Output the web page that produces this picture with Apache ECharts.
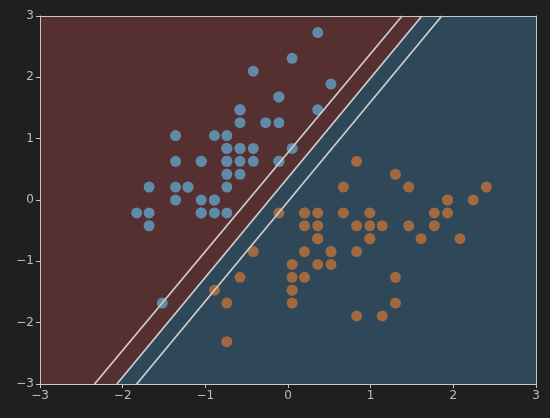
<!DOCTYPE html>
<html>
<head>
<meta charset="utf-8">
<script src="https://cdn.jsdelivr.net/npm/echarts@6/dist/echarts.min.js"></script>
<style>
  html, body { margin: 0; padding: 0; background: #1f1f1f; }
  #chart { width: 550px; height: 418px; }
</style>
</head>
<body>
<div id="chart"></div>
<script>
// standardized sepal length (x) / sepal width (y)
var class0X = [-0.58, -0.89, -1.21, -1.36, -0.74, -0.11, -1.36, -0.74, -1.68, -0.89,
  -0.11, -1.05, -1.05, -1.83, 0.52, 0.36, -0.11, -0.58, 0.36, -0.58,
  -0.11, -0.58, -1.36, -0.58, -1.05, -0.74, -0.74, -0.42, -0.42, -1.21,
  -1.05, -0.11, -0.42, 0.05, -0.89, -0.74, 0.05, -0.89, -1.68, -0.58,
  -0.74, -1.52, -1.68, -0.74, -0.58, -1.05, -0.58, -1.36, -0.27, -0.74];
var class0Y = [0.84, -0.21, 0.21, 0.00, 1.05, 1.68, 0.63, 0.63, -0.42, 0.00,
  1.26, 0.63, -0.21, -0.21, 1.89, 2.73, 1.68, 0.84, 1.47, 1.47,
  0.63, 1.26, 1.05, 0.42, 0.63, -0.21, 0.63, 0.84, 0.63, 0.21,
  0.00, 0.63, 2.10, 2.31, 0.00, 0.21, 0.84, 1.05, -0.21, 0.63,
  0.84, -1.68, 0.21, 0.84, 1.47, -0.21, 1.47, 0.21, 1.26, 0.42];
var class1X = [2.40, 1.46, 2.24, 0.05, 1.61, 0.36, 1.30, -0.89, 1.77, -0.42,
  -0.74, 0.67, 0.83, 0.99, 0.20, 1.93, 0.20, 0.52, 1.14, 0.20,
  0.67, 0.99, 1.30, 0.99, 1.46, 1.77, 2.08, 1.93, 0.83, 0.36,
  0.05, 0.05, 0.52, 0.83, -0.11, 0.83, 1.93, 1.30, 0.20, 0.05,
  0.05, 0.99, 0.52, -0.74, 0.20, 0.36, 0.36, 1.14, -0.58, 0.36];
var class1Y = [0.21, 0.21, 0.00, -1.68, -0.63, -0.63, 0.42, -1.47, -0.42, -0.84,
  -2.31, -0.21, -1.89, -0.42, -0.42, 0.00, -0.21, -0.84, -1.89, -1.26,
  0.21, -0.63, -1.26, -0.63, -0.42, -0.21, -0.63, -0.21, -0.42, -1.05,
  -1.47, -1.47, -0.84, -0.84, -0.21, 0.63, 0.00, -1.68, -0.21, -1.26,
  -1.05, -0.21, -1.05, -1.68, -0.84, -0.21, -0.42, -0.42, -1.26, -0.63];

// decision boundary and margins: x where each line meets y=-3 and y=3
var lineYs = [-3, 3];
var boundaryX = [-2.07, 1.62];
var marginUpperX = [-2.34, 1.38];
var marginLowerX = [-1.83, 1.86];

// regions (polygons)
var redRegionX = [-3, -2.07, 1.62, -3];
var redRegionY = [-3, -3, 3, 3];
var blueRegionX = [-2.07, 3, 3, 1.62];
var blueRegionY = [-3, -3, 3, 3];

var ticks = [-3, -2, -1, 0, 1, 2, 3];

function zip(xs, ys) {
  return xs.map(function (x, i) { return [x, ys[i]]; });
}

var regions = [
  { xs: redRegionX, ys: redRegionY, color: "#562f31" },
  { xs: blueRegionX, ys: blueRegionY, color: "#2e4759" }
];

var axisColor = "#c8c8c8";
var labelColor = "#bdbdbd";
var fmt = function (v) { return String(v).replace("-", "\u2212"); };

var chart = echarts.init(document.getElementById("chart"));

function lineSeries(xs) {
  return {
    type: "line",
    data: zip(xs, lineYs),
    symbol: "none",
    z: 5,
    lineStyle: { color: "#cccccc", width: 1.8 },
    silent: true,
    animation: false
  };
}

chart.setOption({
  backgroundColor: "#1f1f1f",
  animation: false,
  grid: { left: 40, right: 14, top: 16, bottom: 34 },
  xAxis: [{
    type: "value", min: ticks[0], max: ticks[ticks.length - 1], interval: 1,
    z: 6,
    axisLine: { show: true, onZero: false, lineStyle: { color: axisColor, width: 1 } },
    axisTick: { show: true, length: 4, lineStyle: { color: axisColor } },
    axisLabel: { color: labelColor, fontSize: 12, fontFamily: "DejaVu Sans", margin: 6, formatter: fmt },
    splitLine: { show: false }
  }, {
    type: "value", position: "top", min: -3, max: 3, z: 6,
    axisLine: { show: true, onZero: false, lineStyle: { color: axisColor, width: 1 } },
    axisTick: { show: false }, axisLabel: { show: false }, splitLine: { show: false }
  }],
  yAxis: [{
    type: "value", min: ticks[0], max: ticks[ticks.length - 1], interval: 1,
    z: 6,
    axisLine: { show: true, onZero: false, lineStyle: { color: axisColor, width: 1 } },
    axisTick: { show: true, length: 4, lineStyle: { color: axisColor } },
    axisLabel: { color: labelColor, fontSize: 12, fontFamily: "DejaVu Sans", margin: 6, formatter: fmt },
    splitLine: { show: false }
  }, {
    type: "value", position: "right", min: -3, max: 3, z: 6,
    axisLine: { show: true, onZero: false, lineStyle: { color: axisColor, width: 1 } },
    axisTick: { show: false }, axisLabel: { show: false }, splitLine: { show: false }
  }],
  series: [
    {
      type: "custom",
      z: 1,
      silent: true,
      data: regions.map(function (r, i) { return [i]; }),
      renderItem: function (params, api) {
        var r = regions[api.value(0)];
        var pts = r.xs.map(function (x, i) { return api.coord([x, r.ys[i]]); });
        return {
          type: "polygon",
          shape: { points: pts },
          style: { fill: r.color, stroke: null }
        };
      },
      clip: true
    },
    {
      type: "scatter",
      data: zip(class0X, class0Y),
      symbolSize: 11,
      z: 3,
      itemStyle: { color: "#5f8aa8", opacity: 1 }
    },
    {
      type: "scatter",
      data: zip(class1X, class1Y),
      symbolSize: 11,
      z: 3,
      itemStyle: { color: "#a0693f", opacity: 1 }
    },
    lineSeries(boundaryX),
    lineSeries(marginUpperX),
    lineSeries(marginLowerX)
  ]
});
</script>
</body>
</html>
